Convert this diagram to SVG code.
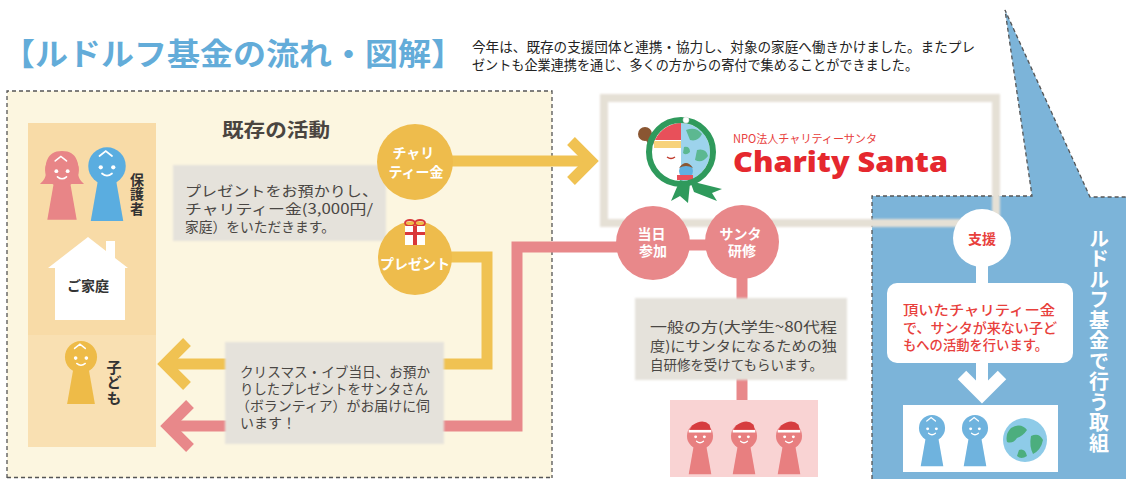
<svg xmlns="http://www.w3.org/2000/svg" width="1126" height="479" viewBox="0 0 1126 479">
<style>
  text { font-family: "Noto Sans CJK JP", "Noto Sans", sans-serif; }
  .body { font-size: 14px; fill: #4a4744; }
  .wt { fill: #ffffff; font-weight: 700; font-size: 14px; text-anchor: middle; }
  .lbl { fill: #333333; font-weight: 700; text-anchor: middle; }
  .vert { writing-mode: vertical-rl; }
  .dash { fill: none; stroke: #555555; stroke-width: 1.3; stroke-dasharray: 4 3; }
  .ylw { fill: none; stroke: #f0c252; stroke-width: 11; }
  .pnk { fill: none; stroke: #e8888a; stroke-width: 11; }
  .wln { fill: none; stroke: #ffffff; stroke-width: 12; }
  .note { fill: #e5e2db; filter: url(#soft); }
  .face { fill: #ffffff; }
  .facel { fill: none; stroke: #ffffff; stroke-width: 1.4; stroke-linecap: round; }
  .red { font-size: 13.5px; font-weight: 500; fill: #e8403c; }
</style>
<defs>
  <filter id="soft" x="-5%" y="-5%" width="110%" height="110%">
    <feGaussianBlur stdDeviation="1.2"/>
  </filter>
  <!-- generic keyhole-shaped person: head r=15 at origin, body below -->
  <g id="person">
    <circle cx="0" cy="0" r="15"/>
    <path d="M-7,10 L7,10 L13,44 L-13,44 Z"/>
    <circle class="face" cx="-5" cy="1" r="1.7"/>
    <circle class="face" cx="5" cy="1" r="1.7"/>
    <path class="facel" d="M-4,6 Q0,9.5 4,6"/>
    <path class="facel" d="M-6,-8 L-1,-12 L4,-8"/>
  </g>
  <g id="hat">
    <path d="M-13,-5 L13,-5 L11,-13 Q3,-21 -9,-12 Z" fill="#d63d3f"/>
    <rect x="-13" y="-7" width="26" height="3" fill="#ffffff"/>
  </g>
  <g id="globe">
    <circle cx="0" cy="0" r="22" fill="#8ecbe8"/>
    <path d="M-14,-12 Q-4,-18 2,-10 Q-2,-4 -8,-2 Q-12,4 -18,2 Q-20,-6 -14,-12 Z" fill="#4cae7e"/>
    <path d="M6,-4 Q14,-8 18,0 Q16,10 8,14 Q4,6 6,-4 Z" fill="#4cae7e"/>
    <path d="M-6,10 Q0,8 2,16 Q-4,20 -8,16 Z" fill="#4cae7e"/>
  </g>
</defs>

<rect x="0" y="0" width="1126" height="479" fill="#ffffff"/>

<!-- heading and intro -->
<g id="title">
  <text x="2" y="65" font-size="31" font-weight="700" fill="#63acd9" textLength="462" lengthAdjust="spacingAndGlyphs">【ルドルフ基金の流れ・図解】</text>
  <text font-size="13.5" fill="#222222">
    <tspan x="472" y="52" textLength="503" lengthAdjust="spacingAndGlyphs">今年は、既存の支援団体と連携・協力し、対象の家庭へ働きかけました。またプレ</tspan>
    <tspan x="472" y="70" textLength="446" lengthAdjust="spacingAndGlyphs">ゼントも企業連携を通じ、多くの方からの寄付で集めることができました。</tspan>
  </text>
</g>

<!-- existing activities area -->
<g id="existing-area">
  <rect x="7" y="91" width="545" height="387" fill="#fcf6e0"/>
  <path class="dash" d="M7,478 V91 H552 V478"/>
  <path class="dash" d="M7,477.5 H552"/>
  <text x="222" y="137" font-size="19" font-weight="700" fill="#4a4540" textLength="108" lengthAdjust="spacingAndGlyphs">既存の活動</text>
</g>

<!-- logo frame (white panel) -->
<rect x="604" y="98" width="392" height="125" fill="#ffffff"/>

<!-- Rudolf fund panel -->
<g id="fund-panel">
  <polygon points="872,479 872,196 1032,196 1005,10 1090,197 1126,197 1126,479" fill="#7cb4d9"/>
  <polyline class="dash" points="872,479 872,196 1032,196 1005,10 1090,197 1126,197"/>
  <text class="vert" x="1099" y="228" font-size="20" font-weight="700" fill="#ffffff" letter-spacing="0.5">ルドルフ基金で行う取組</text>
</g>

<!-- logo frame border -->
<rect x="604" y="98" width="392" height="125" fill="none" stroke="#e5e0d5" stroke-width="8" filter="url(#soft)"/>

<!-- connectors -->
<g id="connectors">
  <!-- charity money to Charity Santa -->
  <path class="ylw" d="M450,161 H588"/>
  <path class="ylw" d="M571,141 L591,161 L571,181"/>
  <!-- presents delivered to children -->
  <path class="ylw" d="M450,257 H487 V364 H166"/>
  <path class="ylw" d="M187,342 L165,364 L187,386"/>
  <!-- volunteers to children -->
  <path class="pnk" d="M620,247 H517 V426 H170"/>
  <path class="pnk" d="M190,404 L168,426 L190,448"/>
  <path class="pnk" d="M688,245 H707"/>
  <path class="pnk" d="M742,276 V300"/>
  <path class="pnk" d="M742,378 V402"/>
  <!-- support flow inside fund panel -->
  <path class="wln" d="M982,264 V285"/>
  <path class="wln" d="M982,361 V392"/>
  <path class="wln" d="M962,375 L982,395 L1002,375"/>
</g>

<!-- household column -->
<g id="household">
  <rect x="28" y="123" width="128" height="212" fill="#f8dba7"/>
  <rect x="28" y="335" width="128" height="112" fill="#f9e0b2"/>
  <!-- mother -->
  <path d="M62,151 C46,151 45,165 46,172 C46,178 43,181 40,184 L84,184 C81,181 78,178 78,172 C79,165 78,151 62,151 Z" fill="#e88587"/>
  <use href="#person" transform="translate(62,170) scale(1.13)" fill="#e88587"/>
  <!-- father -->
  <use href="#person" transform="translate(107,166) scale(1.25)" fill="#5aade0"/>
  <text class="lbl vert" x="137" y="194" font-size="14" letter-spacing="0.5">保護者</text>
  <!-- house -->
  <path d="M48,268 L88,237 L106,251 L106,241 L115,241 L115,258 L128,268 L125,268 L125,320 L55,320 L55,268 Z" fill="#ffffff"/>
  <text class="lbl" x="88" y="291" font-size="14">ご家庭</text>
  <!-- child -->
  <use href="#person" transform="translate(81,357) scale(1.07)" fill="#eebb48"/>
  <text class="lbl vert" x="114" y="383" font-size="15" letter-spacing="0.5">子ども</text>
</g>

<!-- note: collecting presents and money -->
<g id="note-collect">
  <rect class="note" x="173" y="165" width="213" height="76"/>
  <text class="body">
    <tspan x="185" y="196" textLength="193" lengthAdjust="spacingAndGlyphs">プレゼントをお預かりし、</tspan>
    <tspan x="185" y="214" textLength="188" lengthAdjust="spacingAndGlyphs">チャリティー金(3,000円/</tspan>
    <tspan x="185" y="232" textLength="150" lengthAdjust="spacingAndGlyphs">家庭）をいただきます。</tspan>
  </text>
</g>

<!-- node: charity money -->
<g id="node-charity-money">
  <circle cx="415" cy="162" r="38" fill="#eebc4c"/>
  <text class="wt">
    <tspan x="415" y="158">チャリ</tspan>
    <tspan x="416" y="177">ティー金</tspan>
  </text>
</g>

<!-- node: presents -->
<g id="node-presents">
  <circle cx="415" cy="258" r="37" fill="#eebc4c"/>
  <ellipse cx="410" cy="223" rx="5" ry="3" fill="none" stroke="#d9383a" stroke-width="1.8"/>
  <ellipse cx="420" cy="223" rx="5" ry="3" fill="none" stroke="#d9383a" stroke-width="1.8"/>
  <rect x="405" y="226" width="20" height="19" fill="#ffffff"/>
  <rect x="413" y="226" width="4" height="19" fill="#d9383a"/>
  <rect x="405" y="232" width="20" height="3" fill="#d9383a"/>
  <text class="wt" x="415" y="269" font-size="13">プレゼント</text>
</g>

<!-- note: Christmas Eve delivery -->
<g id="note-delivery">
  <rect class="note" x="225" y="342" width="219" height="102"/>
  <text class="body" font-size="13.5">
    <tspan x="240" y="377" textLength="190" lengthAdjust="spacingAndGlyphs">クリスマス・イブ当日、お預か</tspan>
    <tspan x="240" y="394" textLength="188" lengthAdjust="spacingAndGlyphs">りしたプレゼントをサンタさん</tspan>
    <tspan x="236" y="411" textLength="194" lengthAdjust="spacingAndGlyphs">（ボランティア）がお届けに伺</tspan>
    <tspan x="240" y="428">います！</tspan>
  </text>
</g>

<!-- node: Charity Santa -->
<g id="node-charity-santa">
  <!-- hair bun -->
  <circle cx="645" cy="134" r="7" fill="#8a5632"/>
  <circle cx="652" cy="139" r="6" fill="#8a5632"/>
  <!-- globe half -->
  <path d="M681,123 A29,29 0 0 1 681,181 Z" fill="#9dd3ec"/>
  <path d="M686,130 Q696,126 702,134 Q698,142 690,140 Z" fill="#5cb891"/>
  <path d="M697,150 Q706,148 708,156 Q702,164 695,160 Z" fill="#5cb891"/>
  <path d="M684,147 Q690,146 690,152 Q686,156 683,153 Z" fill="#5cb891"/>
  <!-- santa half -->
  <path d="M681,123 A29,29 0 0 0 681,181 Z" fill="#ffffff"/>
  <path d="M681,123 A29,29 0 0 0 655,140 L681,140 Z" fill="#e8505a"/>
  <rect x="654" y="141" width="27" height="7" fill="#f7d27a"/>
  <path d="M667,157 Q671,160 675,157" fill="none" stroke="#c0392b" stroke-width="1.3"/>
  <!-- little child -->
  <circle cx="686" cy="171" r="7" fill="#5fb0e0"/>
  <path d="M679,168 Q686,158 693,168 Q686,164 679,168 Z" fill="#8a5632"/>
  <rect x="677" y="175" width="16" height="5" fill="#e8505a"/>
  <!-- wreath ring -->
  <circle cx="681" cy="152" r="32" fill="none" stroke="#2f9a5c" stroke-width="6"/>
  <circle cx="686" cy="120" r="3" fill="#ffffff" stroke="#dddddd" stroke-width="0.6"/>
  <!-- ribbon -->
  <path d="M680,180 L671,201 L680,196 L688,203 L690,183 Z" fill="#2f9a5c"/>
  <path d="M690,181 L722,189 L712,193 L717,201 L694,192 Z" fill="#2f9a5c"/>
  <text>
    <tspan x="733" y="143" font-size="11.5" fill="#e8403c" textLength="144" lengthAdjust="spacingAndGlyphs">NPO法人チャリティーサンタ</tspan>
    <tspan x="733" y="172" font-family="'Open Sans', 'Liberation Sans', sans-serif" font-size="29" font-weight="800" fill="#e5282e" textLength="215" lengthAdjust="spacingAndGlyphs">Charity Santa</tspan>
  </text>
</g>

<!-- node: same-day participation -->
<g id="node-same-day">
  <circle cx="653" cy="243" r="37" fill="#e8888a"/>
  <text class="wt">
    <tspan x="653" y="239">当日</tspan>
    <tspan x="653" y="256">参加</tspan>
  </text>
</g>

<!-- node: santa training -->
<g id="node-training">
  <circle cx="742" cy="242" r="37" fill="#e8888a"/>
  <text class="wt">
    <tspan x="742" y="239">サンタ</tspan>
    <tspan x="742" y="256">研修</tspan>
  </text>
</g>

<!-- note: training for volunteers -->
<g id="note-training">
  <rect class="note" x="635" y="298" width="212" height="82"/>
  <text class="body">
    <tspan x="650" y="332" textLength="187" lengthAdjust="spacingAndGlyphs">一般の方(大学生~80代程</tspan>
    <tspan x="650" y="351" textLength="187" lengthAdjust="spacingAndGlyphs">度)にサンタになるための独</tspan>
    <tspan x="650" y="370" textLength="173" lengthAdjust="spacingAndGlyphs">自研修を受けてもらいます。</tspan>
  </text>
</g>

<!-- node: volunteer santas -->
<g id="node-santas">
  <rect x="670" y="400" width="148" height="77" fill="#f9d3d3"/>
  <use href="#person" transform="translate(700,436) scale(0.87)" fill="#e87f80"/>
  <use href="#hat" transform="translate(700,436) scale(0.87)"/>
  <use href="#person" transform="translate(744,436) scale(0.87)" fill="#e87f80"/>
  <use href="#hat" transform="translate(744,436) scale(0.87)"/>
  <use href="#person" transform="translate(789,436) scale(0.87)" fill="#e87f80"/>
  <use href="#hat" transform="translate(789,436) scale(0.87)"/>
</g>

<!-- node: support -->
<g id="node-support">
  <circle cx="982" cy="238" r="29" fill="#ffffff"/>
  <text x="982" y="244" font-size="14" font-weight="700" fill="#e8403c" text-anchor="middle">支援</text>
</g>

<!-- node: fund activity -->
<g id="node-fund-activity">
  <rect x="887" y="283" width="186" height="80" rx="10" fill="#ffffff"/>
  <text class="red">
    <tspan x="903" y="315" textLength="152" lengthAdjust="spacingAndGlyphs">頂いたチャリティー金</tspan>
    <tspan x="903" y="333" textLength="154" lengthAdjust="spacingAndGlyphs">で、サンタが来ない子ど</tspan>
    <tspan x="903" y="350" textLength="145" lengthAdjust="spacingAndGlyphs">もへの活動を行います。</tspan>
  </text>
</g>

<!-- node: beneficiaries -->
<g id="node-beneficiaries">
  <rect x="903" y="405" width="155" height="67" fill="#ffffff"/>
  <use href="#person" transform="translate(932,428) scale(0.87)" fill="#6fb3de"/>
  <use href="#person" transform="translate(975,428) scale(0.87)" fill="#6fb3de"/>
  <use href="#globe" transform="translate(1025,440)"/>
</g>
</svg>
